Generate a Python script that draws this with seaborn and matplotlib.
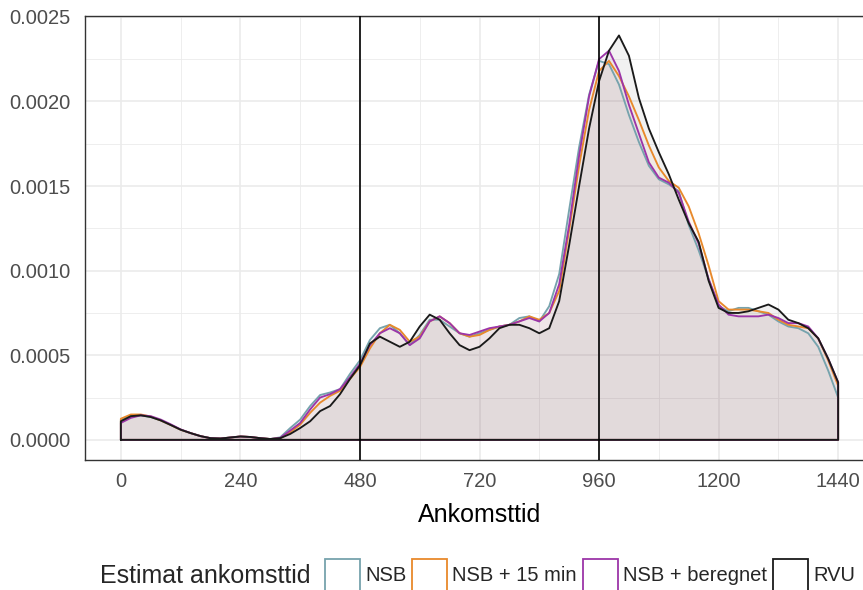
import numpy as np
import pandas as pd
import matplotlib
matplotlib.use("Agg")
import matplotlib.pyplot as plt
import seaborn as sns
from matplotlib.patches import Patch
from matplotlib.ticker import MultipleLocator, FormatStrFormatter

# Ankomsttid (minutes after midnight), density (units of 1e-4)
tid = np.arange(0, 1441, 20)

nsb = np.array([
    1.2, 1.42, 1.45, 1.35, 1.15, 0.88, 0.6, 0.4, 0.22, 0.1,
    0.08, 0.14, 0.2, 0.17, 0.1, 0.05, 0.15, 0.7, 1.2, 2.0,
    2.65, 2.8, 3.0, 3.9, 4.7, 5.9, 6.6, 6.8, 6.3, 5.6,
    6.2, 7.1, 7.1, 6.7, 6.3, 6.1, 6.3, 6.5, 6.7, 6.8,
    7.2, 7.3, 7.0, 7.9, 9.8, 13.6, 17.3, 20.4, 22.4, 22.2,
    21.0, 19.2, 17.6, 16.2, 15.4, 15.1, 14.7, 12.7, 11.2, 9.5,
    7.9, 7.6, 7.8, 7.8, 7.6, 7.4, 7.0, 6.7, 6.6, 6.3,
    5.5, 4.1, 2.5]) * 1e-4

nsb_15 = np.array([
    1.25, 1.5, 1.5, 1.38, 1.15, 0.88, 0.6, 0.4, 0.22, 0.1,
    0.08, 0.14, 0.2, 0.17, 0.1, 0.05, 0.1, 0.45, 0.9, 1.6,
    2.2, 2.6, 2.9, 3.6, 4.3, 5.4, 6.3, 6.8, 6.5, 5.8,
    6.1, 7.0, 7.3, 6.9, 6.3, 6.1, 6.2, 6.5, 6.7, 6.8,
    7.0, 7.3, 7.1, 7.5, 8.8, 12.4, 16.2, 19.5, 21.8, 22.4,
    21.5, 20.3, 18.9, 17.4, 16.1, 15.3, 14.9, 13.8, 12.2, 10.3,
    8.2, 7.7, 7.7, 7.7, 7.6, 7.5, 7.1, 6.8, 6.7, 6.6,
    6.0, 4.7, 3.2]) * 1e-4

nsb_beregnet = np.array([
    1.0, 1.3, 1.45, 1.4, 1.2, 0.92, 0.62, 0.4, 0.22, 0.1,
    0.08, 0.14, 0.2, 0.17, 0.1, 0.05, 0.12, 0.55, 1.0, 1.8,
    2.5, 2.7, 3.0, 3.7, 4.5, 5.6, 6.3, 6.6, 6.3, 5.6,
    6.0, 7.0, 7.3, 6.9, 6.3, 6.2, 6.4, 6.6, 6.7, 6.8,
    7.0, 7.2, 7.0, 7.5, 9.2, 12.7, 16.8, 20.3, 22.5, 23.0,
    21.8, 19.8, 18.1, 16.4, 15.5, 15.2, 14.6, 12.9, 11.6, 9.5,
    8.0, 7.4, 7.3, 7.3, 7.3, 7.4, 7.2, 6.9, 6.9, 6.7,
    6.0, 4.8, 3.4]) * 1e-4

rvu = np.array([
    1.1, 1.4, 1.45, 1.35, 1.15, 0.88, 0.6, 0.4, 0.22, 0.1,
    0.08, 0.14, 0.2, 0.17, 0.1, 0.05, 0.1, 0.35, 0.7, 1.1,
    1.7, 2.0, 2.7, 3.6, 4.4, 5.7, 6.1, 5.8, 5.5, 5.8,
    6.7, 7.4, 7.1, 6.3, 5.6, 5.3, 5.5, 6.0, 6.6, 6.8,
    6.8, 6.6, 6.3, 6.6, 8.2, 11.5, 15.0, 18.4, 21.2, 23.0,
    23.9, 22.7, 20.2, 18.4, 17.0, 15.7, 14.2, 12.8, 11.7, 9.4,
    7.8, 7.5, 7.5, 7.6, 7.8, 8.0, 7.7, 7.1, 6.9, 6.6,
    6.0, 4.8, 3.4]) * 1e-4

series = ["NSB", "NSB + 15 min", "NSB + beregnet", "RVU"]
values = [nsb, nsb_15, nsb_beregnet, rvu]
colors = ["#76a3ad", "#e8892b", "#9c35a8", "#1a1a1a"]
vlines = [480, 960]

# Closed outline like geom_density: up at 0, along the curve, down at 1440, back along 0
rows = []
for name, vals in zip(series, values):
    xs = np.concatenate([[0], tid, [1440, 0]])
    ys = np.concatenate([[0], vals, [0, 0]])
    rows.append(pd.DataFrame({"Ankomsttid": xs, "density": ys, "Estimat": name}))
df = pd.concat(rows, ignore_index=True)

sns.set_style("white")
plt.rcParams["font.family"] = ["Liberation Sans", "DejaVu Sans"]

W, H = 863, 590
fig = plt.figure(figsize=(W / 100, H / 100), dpi=100)
ax = fig.add_axes([85 / W, (H - 460) / H, (874 - 85) / W, (460 - 16) / H])

for vals, c in zip(values, colors):
    ax.fill_between(tid, 0, vals, color=c, alpha=0.06, lw=0, zorder=2)

sns.lineplot(data=df, x="Ankomsttid", y="density", hue="Estimat",
             palette=dict(zip(series, colors)), sort=False, estimator=None,
             lw=1.35, legend=False, ax=ax, zorder=3)

for v in vlines:
    ax.axvline(v, color="black", lw=1.2, zorder=4)

ax.set_xlim(-72, 1512)
ax.set_ylim(-0.000119, 0.002505)
ax.xaxis.set_major_locator(MultipleLocator(240))
ax.xaxis.set_minor_locator(MultipleLocator(120))
ax.yaxis.set_major_locator(MultipleLocator(0.0005))
ax.yaxis.set_minor_locator(MultipleLocator(0.00025))
ax.yaxis.set_major_formatter(FormatStrFormatter("%.4f"))

ax.grid(which="major", color="#ebebeb", lw=1.2)
ax.grid(which="minor", color="#ebebeb", lw=0.6)
ax.set_axisbelow(True)
for s in ax.spines.values():
    s.set_color("#333333")
    s.set_linewidth(1.0)

ax.tick_params(which="major", length=4.3, width=1.0, color="#333333",
               labelcolor="#4d4d4d", labelsize=14.5)
ax.tick_params(axis="y", pad=6)
ax.tick_params(axis="x", pad=4.5)
ax.tick_params(which="minor", length=0)

ax.set_ylabel("")
ax.set_xlabel("Ankomsttid", fontsize=18, color="black")
ax.xaxis.set_label_coords(0.5, (460 - 503) / 444)
ax.xaxis.label.set_va("top")

# Legend at the bottom, title on the left
fig.text(100 / W, (H - 583) / H, "Estimat ankomsttid", fontsize=18,
         va="baseline", ha="left")
handles = [Patch(facecolor="white", edgecolor=c, lw=1.3) for c in colors]
fig.legend(handles, series, loc="center left", ncol=4,
           bbox_to_anchor=(325 / W, (H - 575) / H), frameon=False,
           fontsize=14.5, handlelength=1.74, handleheight=2.0,
           handletextpad=0.25, columnspacing=0.3, borderpad=0, borderaxespad=0)

fig.savefig("out.png", dpi=100)
